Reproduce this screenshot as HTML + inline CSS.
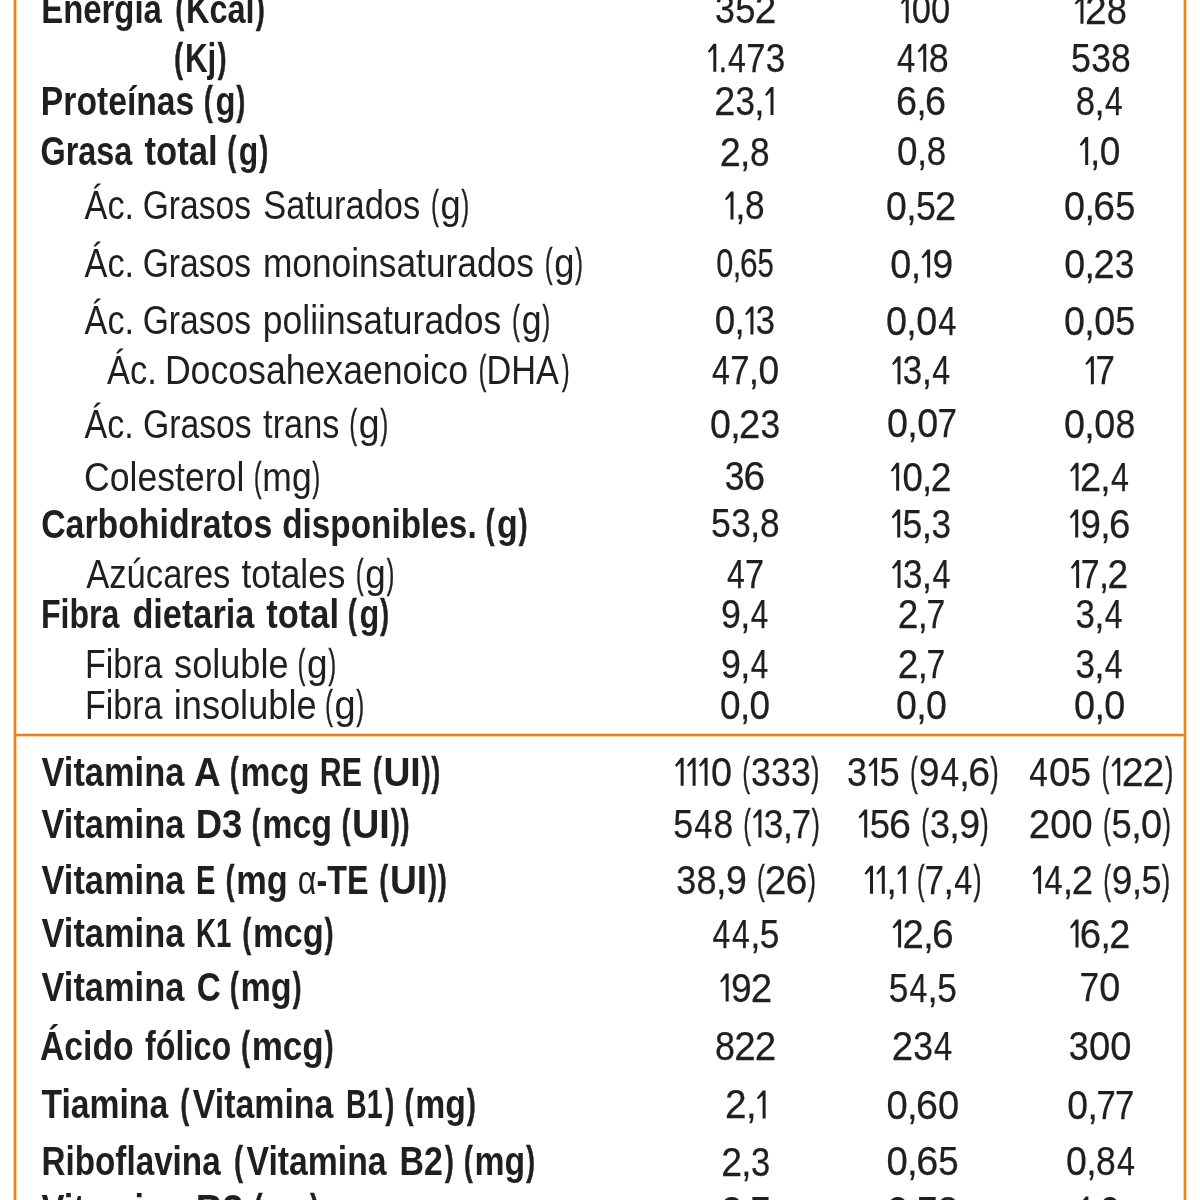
<!DOCTYPE html>
<html lang="es"><head><meta charset="utf-8"><title>Información nutricional</title>
<style>
html,body{margin:0;padding:0;background:#fff;width:1200px;height:1200px;overflow:hidden}
svg{display:block;will-change:transform}
text{font-family:"Liberation Sans",sans-serif;fill:#1f1f1f;white-space:pre}
.pr{stroke:#1f1f1f;stroke-width:0.6px}
.pb{stroke:#1f1f1f;stroke-width:0.7px}
.nd{stroke:#1f1f1f;stroke-width:0.25px}
</style></head><body>
<svg width="1200" height="1200" viewBox="0 0 1200 1200">
<rect x="0" y="0" width="1200" height="1200" fill="#fff"/>
<g fill="#f8d3a8">
<rect x="13.0" y="0" width="4.0" height="1200"/>
<rect x="1183.0" y="0" width="4.0" height="1200"/>
<rect x="16.0" y="733.0" width="1168.0" height="4.0"/>
</g>
<g fill="#e9831b">
<rect x="14.0" y="0" width="2.0" height="1200"/>
<rect x="1184.0" y="0" width="2.0" height="1200"/>
<rect x="15.0" y="734.0" width="1170.0" height="2.0"/>
</g>
<text x="41.26" y="23.30" font-size="40" font-weight="700" textLength="120.62" lengthAdjust="spacingAndGlyphs">Energía</text>
<text class="pb" x="175.40" y="23.30" font-size="40" font-weight="700" textLength="8.66" lengthAdjust="spacingAndGlyphs">(</text>
<text x="185.98" y="23.30" font-size="40" font-weight="700" textLength="68.59" lengthAdjust="spacingAndGlyphs">Kcal</text>
<text class="pb" x="255.95" y="23.30" font-size="40" font-weight="700" textLength="8.66" lengthAdjust="spacingAndGlyphs">)</text>
<text class="pb" x="174.30" y="71.90" font-size="40" font-weight="700" textLength="8.66" lengthAdjust="spacingAndGlyphs">(</text>
<text x="184.93" y="71.90" font-size="40" font-weight="700" textLength="31.43" lengthAdjust="spacingAndGlyphs">Kj</text>
<text class="pb" x="217.80" y="71.90" font-size="40" font-weight="700" textLength="8.66" lengthAdjust="spacingAndGlyphs">)</text>
<text x="40.82" y="115.00" font-size="40" font-weight="700" textLength="153.53" lengthAdjust="spacingAndGlyphs">Proteínas</text>
<text class="pb" x="204.10" y="115.00" font-size="40" font-weight="700" textLength="8.66" lengthAdjust="spacingAndGlyphs">(</text>
<text x="215.48" y="115.00" font-size="40" font-weight="700" textLength="20.01" lengthAdjust="spacingAndGlyphs">g</text>
<text class="pb" x="236.60" y="115.00" font-size="40" font-weight="700" textLength="8.66" lengthAdjust="spacingAndGlyphs">)</text>
<text x="40.44" y="165.30" font-size="40" font-weight="700" textLength="91.85" lengthAdjust="spacingAndGlyphs">Grasa</text>
<text x="144.40" y="165.30" font-size="40" font-weight="700" textLength="73.23" lengthAdjust="spacingAndGlyphs">total</text>
<text class="pb" x="227.45" y="165.30" font-size="40" font-weight="700" textLength="8.66" lengthAdjust="spacingAndGlyphs">(</text>
<text x="238.85" y="165.30" font-size="40" font-weight="700" textLength="19.49" lengthAdjust="spacingAndGlyphs">g</text>
<text class="pb" x="259.50" y="165.30" font-size="40" font-weight="700" textLength="8.66" lengthAdjust="spacingAndGlyphs">)</text>
<text x="84.60" y="219.20" font-size="41" font-weight="400" textLength="49.48" lengthAdjust="spacingAndGlyphs">Ác.</text>
<text x="142.76" y="219.20" font-size="41" font-weight="400" textLength="108.25" lengthAdjust="spacingAndGlyphs">Grasos</text>
<text x="263.16" y="219.20" font-size="41" font-weight="400" textLength="157.01" lengthAdjust="spacingAndGlyphs">Saturados</text>
<text class="pr" x="431.20" y="219.20" font-size="41" font-weight="400" textLength="7.51" lengthAdjust="spacingAndGlyphs">(</text>
<text x="440.52" y="219.20" font-size="41" font-weight="400" textLength="20.18" lengthAdjust="spacingAndGlyphs">g</text>
<text class="pr" x="461.60" y="219.20" font-size="41" font-weight="400" textLength="7.51" lengthAdjust="spacingAndGlyphs">)</text>
<text x="84.60" y="277.10" font-size="41" font-weight="400" textLength="49.48" lengthAdjust="spacingAndGlyphs">Ác.</text>
<text x="142.76" y="277.10" font-size="41" font-weight="400" textLength="108.25" lengthAdjust="spacingAndGlyphs">Grasos</text>
<text x="262.88" y="277.10" font-size="41" font-weight="400" textLength="271.05" lengthAdjust="spacingAndGlyphs">monoinsaturados</text>
<text class="pr" x="544.90" y="277.10" font-size="41" font-weight="400" textLength="7.51" lengthAdjust="spacingAndGlyphs">(</text>
<text x="554.22" y="277.10" font-size="41" font-weight="400" textLength="20.18" lengthAdjust="spacingAndGlyphs">g</text>
<text class="pr" x="575.30" y="277.10" font-size="41" font-weight="400" textLength="7.51" lengthAdjust="spacingAndGlyphs">)</text>
<text x="84.60" y="334.40" font-size="41" font-weight="400" textLength="49.48" lengthAdjust="spacingAndGlyphs">Ác.</text>
<text x="142.76" y="334.40" font-size="41" font-weight="400" textLength="108.25" lengthAdjust="spacingAndGlyphs">Grasos</text>
<text x="262.87" y="334.40" font-size="41" font-weight="400" textLength="238.36" lengthAdjust="spacingAndGlyphs">poliinsaturados</text>
<text class="pr" x="512.30" y="334.40" font-size="41" font-weight="400" textLength="7.51" lengthAdjust="spacingAndGlyphs">(</text>
<text x="521.63" y="334.40" font-size="41" font-weight="400" textLength="19.84" lengthAdjust="spacingAndGlyphs">g</text>
<text class="pr" x="542.40" y="334.40" font-size="41" font-weight="400" textLength="7.51" lengthAdjust="spacingAndGlyphs">)</text>
<text x="107.10" y="383.80" font-size="41" font-weight="400" textLength="49.75" lengthAdjust="spacingAndGlyphs">Ác.</text>
<text x="164.89" y="383.80" font-size="41" font-weight="400" textLength="303.10" lengthAdjust="spacingAndGlyphs">Docosahexaenoico</text>
<text class="pr" x="478.70" y="383.80" font-size="41" font-weight="400" textLength="7.51" lengthAdjust="spacingAndGlyphs">(</text>
<text x="486.39" y="383.80" font-size="41" font-weight="400" textLength="72.46" lengthAdjust="spacingAndGlyphs">DHA</text>
<text class="pr" x="561.90" y="383.80" font-size="41" font-weight="400" textLength="7.51" lengthAdjust="spacingAndGlyphs">)</text>
<text x="84.60" y="437.60" font-size="41" font-weight="400" textLength="49.22" lengthAdjust="spacingAndGlyphs">Ác.</text>
<text x="142.95" y="437.60" font-size="41" font-weight="400" textLength="108.71" lengthAdjust="spacingAndGlyphs">Grasos</text>
<text x="263.10" y="437.60" font-size="41" font-weight="400" textLength="76.32" lengthAdjust="spacingAndGlyphs">trans</text>
<text class="pr" x="349.50" y="437.60" font-size="41" font-weight="400" textLength="7.51" lengthAdjust="spacingAndGlyphs">(</text>
<text x="358.79" y="437.60" font-size="41" font-weight="400" textLength="20.86" lengthAdjust="spacingAndGlyphs">g</text>
<text class="pr" x="380.50" y="437.60" font-size="41" font-weight="400" textLength="7.51" lengthAdjust="spacingAndGlyphs">)</text>
<text x="84.06" y="491.00" font-size="41" font-weight="400" textLength="160.27" lengthAdjust="spacingAndGlyphs">Colesterol</text>
<text class="pr" x="253.90" y="491.00" font-size="41" font-weight="400" textLength="7.51" lengthAdjust="spacingAndGlyphs">(</text>
<text x="262.37" y="491.00" font-size="41" font-weight="400" textLength="49.29" lengthAdjust="spacingAndGlyphs">mg</text>
<text class="pr" x="312.60" y="491.00" font-size="41" font-weight="400" textLength="7.51" lengthAdjust="spacingAndGlyphs">)</text>
<text x="41.15" y="537.60" font-size="40" font-weight="700" textLength="231.15" lengthAdjust="spacingAndGlyphs">Carbohidratos</text>
<text x="282.17" y="537.60" font-size="40" font-weight="700" textLength="194.49" lengthAdjust="spacingAndGlyphs">disponibles.</text>
<text class="pb" x="485.70" y="537.60" font-size="40" font-weight="700" textLength="8.66" lengthAdjust="spacingAndGlyphs">(</text>
<text x="497.05" y="537.60" font-size="40" font-weight="700" textLength="20.71" lengthAdjust="spacingAndGlyphs">g</text>
<text class="pb" x="518.80" y="537.60" font-size="40" font-weight="700" textLength="8.66" lengthAdjust="spacingAndGlyphs">)</text>
<text x="86.25" y="587.70" font-size="41" font-weight="400" textLength="144.17" lengthAdjust="spacingAndGlyphs">Azúcares</text>
<text x="241.50" y="587.70" font-size="41" font-weight="400" textLength="103.93" lengthAdjust="spacingAndGlyphs">totales</text>
<text class="pr" x="356.00" y="587.70" font-size="41" font-weight="400" textLength="7.51" lengthAdjust="spacingAndGlyphs">(</text>
<text x="365.30" y="587.70" font-size="41" font-weight="400" textLength="20.52" lengthAdjust="spacingAndGlyphs">g</text>
<text class="pr" x="386.70" y="587.70" font-size="41" font-weight="400" textLength="7.51" lengthAdjust="spacingAndGlyphs">)</text>
<text x="40.89" y="627.70" font-size="40" font-weight="700" textLength="78.50" lengthAdjust="spacingAndGlyphs">Fibra</text>
<text x="132.39" y="627.70" font-size="40" font-weight="700" textLength="121.96" lengthAdjust="spacingAndGlyphs">dietaria</text>
<text x="266.25" y="627.70" font-size="40" font-weight="700" textLength="72.77" lengthAdjust="spacingAndGlyphs">total</text>
<text class="pb" x="348.00" y="627.70" font-size="40" font-weight="700" textLength="8.66" lengthAdjust="spacingAndGlyphs">(</text>
<text x="359.39" y="627.70" font-size="40" font-weight="700" textLength="19.78" lengthAdjust="spacingAndGlyphs">g</text>
<text class="pb" x="380.30" y="627.70" font-size="40" font-weight="700" textLength="8.66" lengthAdjust="spacingAndGlyphs">)</text>
<text x="85.02" y="677.60" font-size="41" font-weight="400" textLength="77.32" lengthAdjust="spacingAndGlyphs">Fibra</text>
<text x="174.12" y="677.60" font-size="41" font-weight="400" textLength="114.47" lengthAdjust="spacingAndGlyphs">soluble</text>
<text class="pr" x="297.65" y="677.60" font-size="41" font-weight="400" textLength="7.51" lengthAdjust="spacingAndGlyphs">(</text>
<text x="306.95" y="677.60" font-size="41" font-weight="400" textLength="20.58" lengthAdjust="spacingAndGlyphs">g</text>
<text class="pr" x="328.40" y="677.60" font-size="41" font-weight="400" textLength="7.51" lengthAdjust="spacingAndGlyphs">)</text>
<text x="85.02" y="719.00" font-size="41" font-weight="400" textLength="77.32" lengthAdjust="spacingAndGlyphs">Fibra</text>
<text x="173.73" y="719.00" font-size="41" font-weight="400" textLength="142.86" lengthAdjust="spacingAndGlyphs">insoluble</text>
<text class="pr" x="325.15" y="719.00" font-size="41" font-weight="400" textLength="7.51" lengthAdjust="spacingAndGlyphs">(</text>
<text x="334.42" y="719.00" font-size="41" font-weight="400" textLength="21.15" lengthAdjust="spacingAndGlyphs">g</text>
<text class="pr" x="356.40" y="719.00" font-size="41" font-weight="400" textLength="7.51" lengthAdjust="spacingAndGlyphs">)</text>
<text x="41.50" y="785.70" font-size="40" font-weight="700" textLength="142.85" lengthAdjust="spacingAndGlyphs">Vitamina</text>
<text x="194.07" y="785.70" font-size="40" font-weight="700" textLength="26.75" lengthAdjust="spacingAndGlyphs">A</text>
<text class="pb" x="229.95" y="785.70" font-size="40" font-weight="700" textLength="8.66" lengthAdjust="spacingAndGlyphs">(</text>
<text x="240.47" y="785.70" font-size="40" font-weight="700" textLength="69.07" lengthAdjust="spacingAndGlyphs">mcg</text>
<text x="319.78" y="785.70" font-size="40" font-weight="700" textLength="42.13" lengthAdjust="spacingAndGlyphs">RE</text>
<text class="pb" x="373.10" y="785.70" font-size="40" font-weight="700" textLength="8.66" lengthAdjust="spacingAndGlyphs">(</text>
<text x="383.44" y="785.70" font-size="40" font-weight="700" textLength="37.23" lengthAdjust="spacingAndGlyphs">UI</text>
<text class="pb" x="431.60" y="785.70" font-size="40" font-weight="700" textLength="8.66" lengthAdjust="spacingAndGlyphs">)</text>
<text class="pb" x="421.80" y="785.70" font-size="40" font-weight="700" textLength="8.66" lengthAdjust="spacingAndGlyphs">)</text>
<text x="41.50" y="837.60" font-size="40" font-weight="700" textLength="142.85" lengthAdjust="spacingAndGlyphs">Vitamina</text>
<text x="195.67" y="837.60" font-size="40" font-weight="700" textLength="46.72" lengthAdjust="spacingAndGlyphs">D3</text>
<text class="pb" x="251.70" y="837.60" font-size="40" font-weight="700" textLength="8.66" lengthAdjust="spacingAndGlyphs">(</text>
<text x="262.20" y="837.60" font-size="40" font-weight="700" textLength="69.87" lengthAdjust="spacingAndGlyphs">mcg</text>
<text class="pb" x="341.70" y="837.60" font-size="40" font-weight="700" textLength="8.66" lengthAdjust="spacingAndGlyphs">(</text>
<text x="352.01" y="837.60" font-size="40" font-weight="700" textLength="37.79" lengthAdjust="spacingAndGlyphs">UI</text>
<text class="pb" x="400.70" y="837.60" font-size="40" font-weight="700" textLength="8.66" lengthAdjust="spacingAndGlyphs">)</text>
<text class="pb" x="390.90" y="837.60" font-size="40" font-weight="700" textLength="8.66" lengthAdjust="spacingAndGlyphs">)</text>
<text x="41.50" y="894.00" font-size="40" font-weight="700" textLength="142.85" lengthAdjust="spacingAndGlyphs">Vitamina</text>
<text x="196.04" y="894.00" font-size="40" font-weight="700" textLength="19.45" lengthAdjust="spacingAndGlyphs">E</text>
<text class="pb" x="225.70" y="894.00" font-size="40" font-weight="700" textLength="8.66" lengthAdjust="spacingAndGlyphs">(</text>
<text x="236.18" y="894.00" font-size="40" font-weight="700" textLength="51.51" lengthAdjust="spacingAndGlyphs">mg</text>
<text x="297.79" y="894.00" font-size="40" font-weight="400" textLength="70.66" lengthAdjust="spacingAndGlyphs">α<tspan font-weight="700">-TE</tspan></text>
<text class="pb" x="379.60" y="894.00" font-size="40" font-weight="700" textLength="8.66" lengthAdjust="spacingAndGlyphs">(</text>
<text x="389.94" y="894.00" font-size="40" font-weight="700" textLength="37.23" lengthAdjust="spacingAndGlyphs">UI</text>
<text class="pb" x="438.10" y="894.00" font-size="40" font-weight="700" textLength="8.66" lengthAdjust="spacingAndGlyphs">)</text>
<text class="pb" x="428.30" y="894.00" font-size="40" font-weight="700" textLength="8.66" lengthAdjust="spacingAndGlyphs">)</text>
<text x="41.50" y="947.20" font-size="40" font-weight="700" textLength="142.85" lengthAdjust="spacingAndGlyphs">Vitamina</text>
<text x="196.12" y="947.20" font-size="40" font-weight="700" textLength="35.30" lengthAdjust="spacingAndGlyphs">K1</text>
<text class="pb" x="242.45" y="947.20" font-size="40" font-weight="700" textLength="8.66" lengthAdjust="spacingAndGlyphs">(</text>
<text x="252.93" y="947.20" font-size="40" font-weight="700" textLength="70.76" lengthAdjust="spacingAndGlyphs">mcg</text>
<text class="pb" x="324.70" y="947.20" font-size="40" font-weight="700" textLength="8.66" lengthAdjust="spacingAndGlyphs">)</text>
<text x="41.50" y="1001.20" font-size="40" font-weight="700" textLength="142.85" lengthAdjust="spacingAndGlyphs">Vitamina</text>
<text x="196.67" y="1001.20" font-size="40" font-weight="700" textLength="24.07" lengthAdjust="spacingAndGlyphs">C</text>
<text class="pb" x="229.95" y="1001.20" font-size="40" font-weight="700" textLength="8.66" lengthAdjust="spacingAndGlyphs">(</text>
<text x="240.44" y="1001.20" font-size="40" font-weight="700" textLength="51.24" lengthAdjust="spacingAndGlyphs">mg</text>
<text class="pb" x="292.70" y="1001.20" font-size="40" font-weight="700" textLength="8.66" lengthAdjust="spacingAndGlyphs">)</text>
<text x="39.96" y="1059.80" font-size="40" font-weight="700" textLength="93.75" lengthAdjust="spacingAndGlyphs">Ácido</text>
<text x="145.00" y="1059.80" font-size="40" font-weight="700" textLength="86.16" lengthAdjust="spacingAndGlyphs">fólico</text>
<text class="pb" x="241.20" y="1059.80" font-size="40" font-weight="700" textLength="8.66" lengthAdjust="spacingAndGlyphs">(</text>
<text x="251.65" y="1059.80" font-size="40" font-weight="700" textLength="72.09" lengthAdjust="spacingAndGlyphs">mcg</text>
<text class="pb" x="324.70" y="1059.80" font-size="40" font-weight="700" textLength="8.66" lengthAdjust="spacingAndGlyphs">)</text>
<text x="41.50" y="1118.30" font-size="40" font-weight="700" textLength="126.62" lengthAdjust="spacingAndGlyphs">Tiamina</text>
<text class="pb" x="180.60" y="1118.30" font-size="40" font-weight="700" textLength="8.66" lengthAdjust="spacingAndGlyphs">(</text>
<text x="192.80" y="1118.30" font-size="40" font-weight="700" textLength="140.56" lengthAdjust="spacingAndGlyphs">Vitamina</text>
<text x="346.07" y="1118.30" font-size="40" font-weight="700" textLength="36.61" lengthAdjust="spacingAndGlyphs">B1</text>
<text class="pb" x="385.60" y="1118.30" font-size="40" font-weight="700" textLength="8.66" lengthAdjust="spacingAndGlyphs">)</text>
<text class="pb" x="404.70" y="1118.30" font-size="40" font-weight="700" textLength="8.66" lengthAdjust="spacingAndGlyphs">(</text>
<text x="415.21" y="1118.30" font-size="40" font-weight="700" textLength="50.64" lengthAdjust="spacingAndGlyphs">mg</text>
<text class="pb" x="466.90" y="1118.30" font-size="40" font-weight="700" textLength="8.66" lengthAdjust="spacingAndGlyphs">)</text>
<text x="41.54" y="1175.30" font-size="40" font-weight="700" textLength="179.09" lengthAdjust="spacingAndGlyphs">Riboflavina</text>
<text class="pb" x="234.30" y="1175.30" font-size="40" font-weight="700" textLength="8.66" lengthAdjust="spacingAndGlyphs">(</text>
<text x="246.50" y="1175.30" font-size="40" font-weight="700" textLength="140.06" lengthAdjust="spacingAndGlyphs">Vitamina</text>
<text x="399.55" y="1175.30" font-size="40" font-weight="700" textLength="43.41" lengthAdjust="spacingAndGlyphs">B2</text>
<text class="pb" x="445.00" y="1175.30" font-size="40" font-weight="700" textLength="8.66" lengthAdjust="spacingAndGlyphs">)</text>
<text class="pb" x="464.00" y="1175.30" font-size="40" font-weight="700" textLength="8.66" lengthAdjust="spacingAndGlyphs">(</text>
<text x="474.51" y="1175.30" font-size="40" font-weight="700" textLength="50.64" lengthAdjust="spacingAndGlyphs">mg</text>
<text class="pb" x="526.20" y="1175.30" font-size="40" font-weight="700" textLength="8.66" lengthAdjust="spacingAndGlyphs">)</text>
<text x="41.50" y="1222.50" font-size="40" font-weight="700" textLength="142.85" lengthAdjust="spacingAndGlyphs">Vitamina</text>
<text x="195.64" y="1222.50" font-size="40" font-weight="700" textLength="47.52" lengthAdjust="spacingAndGlyphs">B3</text>
<text class="pb" x="253.70" y="1222.50" font-size="40" font-weight="700" textLength="8.66" lengthAdjust="spacingAndGlyphs">(</text>
<text x="264.42" y="1222.50" font-size="40" font-weight="700" textLength="44.49" lengthAdjust="spacingAndGlyphs">mg</text>
<text class="pb" x="310.20" y="1222.50" font-size="40" font-weight="700" textLength="8.66" lengthAdjust="spacingAndGlyphs">)</text>
<text class="nd" x="715.10" y="23.40" font-size="40" textLength="19.92" lengthAdjust="spacingAndGlyphs">3</text>
<text class="nd" x="735.23" y="23.40" font-size="40" textLength="20.26" lengthAdjust="spacingAndGlyphs">5</text>
<text class="nd" x="754.64" y="23.40" font-size="40" textLength="21.57" lengthAdjust="spacingAndGlyphs">2</text>
<text class="nd" x="911.78" y="23.30" font-size="40" textLength="19.21" lengthAdjust="spacingAndGlyphs">0</text>
<text class="nd" x="931.07" y="23.30" font-size="40" textLength="19.21" lengthAdjust="spacingAndGlyphs">0</text>
<text class="nd" x="1084.88" y="23.70" font-size="40" textLength="21.73" lengthAdjust="spacingAndGlyphs">2</text>
<text class="nd" x="1106.74" y="23.70" font-size="40" textLength="20.19" lengthAdjust="spacingAndGlyphs">8</text>
<text class="nd" x="718.47" y="71.80" font-size="40" textLength="8.79" lengthAdjust="spacingAndGlyphs">.</text>
<text class="nd" x="728.06" y="71.80" font-size="40" textLength="17.89" lengthAdjust="spacingAndGlyphs">4</text>
<text class="nd" x="746.20" y="71.80" font-size="40" textLength="19.21" lengthAdjust="spacingAndGlyphs">7</text>
<text class="nd" x="765.63" y="71.80" font-size="40" textLength="19.46" lengthAdjust="spacingAndGlyphs">3</text>
<text class="nd" x="897.00" y="71.70" font-size="40" textLength="18.24" lengthAdjust="spacingAndGlyphs">4</text>
<text class="nd" x="928.66" y="71.70" font-size="40" textLength="19.96" lengthAdjust="spacingAndGlyphs">8</text>
<text class="nd" x="1071.10" y="71.70" font-size="40" textLength="19.95" lengthAdjust="spacingAndGlyphs">5</text>
<text class="nd" x="1091.25" y="71.70" font-size="40" textLength="19.62" lengthAdjust="spacingAndGlyphs">3</text>
<text class="nd" x="1111.07" y="71.70" font-size="40" textLength="19.73" lengthAdjust="spacingAndGlyphs">8</text>
<text class="nd" x="714.31" y="115.00" font-size="40" textLength="21.05" lengthAdjust="spacingAndGlyphs">2</text>
<text class="nd" x="735.48" y="115.00" font-size="40" textLength="19.45" lengthAdjust="spacingAndGlyphs">3</text>
<text class="nd" x="754.31" y="115.00" font-size="40" textLength="10.32" lengthAdjust="spacingAndGlyphs">,</text>
<text class="nd" x="896.11" y="115.00" font-size="40" textLength="21.08" lengthAdjust="spacingAndGlyphs">6</text>
<text class="nd" x="916.47" y="115.00" font-size="40" textLength="10.17" lengthAdjust="spacingAndGlyphs">,</text>
<text class="nd" x="925.10" y="115.00" font-size="40" textLength="21.08" lengthAdjust="spacingAndGlyphs">6</text>
<text class="nd" x="1075.83" y="115.00" font-size="40" textLength="19.29" lengthAdjust="spacingAndGlyphs">8</text>
<text class="nd" x="1094.51" y="115.00" font-size="40" textLength="10.18" lengthAdjust="spacingAndGlyphs">,</text>
<text class="nd" x="1105.06" y="115.00" font-size="40" textLength="17.64" lengthAdjust="spacingAndGlyphs">4</text>
<text class="nd" x="719.70" y="165.60" font-size="40" textLength="21.08" lengthAdjust="spacingAndGlyphs">2</text>
<text class="nd" x="740.08" y="165.60" font-size="40" textLength="10.34" lengthAdjust="spacingAndGlyphs">,</text>
<text class="nd" x="749.91" y="165.60" font-size="40" textLength="19.59" lengthAdjust="spacingAndGlyphs">8</text>
<text class="nd" x="897.08" y="165.00" font-size="40" textLength="20.52" lengthAdjust="spacingAndGlyphs">0</text>
<text class="nd" x="916.92" y="165.00" font-size="40" textLength="10.25" lengthAdjust="spacingAndGlyphs">,</text>
<text class="nd" x="926.66" y="165.00" font-size="40" textLength="19.43" lengthAdjust="spacingAndGlyphs">8</text>
<text class="nd" x="1089.95" y="165.00" font-size="40" textLength="10.32" lengthAdjust="spacingAndGlyphs">,</text>
<text class="nd" x="1099.71" y="165.00" font-size="40" textLength="20.65" lengthAdjust="spacingAndGlyphs">0</text>
<text class="nd" x="735.27" y="219.40" font-size="40" textLength="10.34" lengthAdjust="spacingAndGlyphs">,</text>
<text class="nd" x="745.10" y="219.40" font-size="40" textLength="19.60" lengthAdjust="spacingAndGlyphs">8</text>
<text class="nd" x="886.07" y="219.70" font-size="40" textLength="20.76" lengthAdjust="spacingAndGlyphs">0</text>
<text class="nd" x="906.14" y="219.70" font-size="40" textLength="10.37" lengthAdjust="spacingAndGlyphs">,</text>
<text class="nd" x="915.99" y="219.70" font-size="40" textLength="19.88" lengthAdjust="spacingAndGlyphs">5</text>
<text class="nd" x="935.03" y="219.70" font-size="40" textLength="21.15" lengthAdjust="spacingAndGlyphs">2</text>
<text class="nd" x="1064.05" y="219.70" font-size="40" textLength="21.03" lengthAdjust="spacingAndGlyphs">0</text>
<text class="nd" x="1084.39" y="219.70" font-size="40" textLength="10.51" lengthAdjust="spacingAndGlyphs">,</text>
<text class="nd" x="1093.32" y="219.70" font-size="40" textLength="21.79" lengthAdjust="spacingAndGlyphs">6</text>
<text class="nd" x="1115.19" y="219.70" font-size="40" textLength="20.14" lengthAdjust="spacingAndGlyphs">5</text>
<text class="nd" x="716.23" y="277.00" font-size="40" textLength="17.02" lengthAdjust="spacingAndGlyphs">0</text>
<text class="nd" x="732.69" y="277.00" font-size="40" textLength="8.50" lengthAdjust="spacingAndGlyphs">,</text>
<text class="nd" x="739.91" y="277.00" font-size="40" textLength="17.63" lengthAdjust="spacingAndGlyphs">6</text>
<text class="nd" x="757.62" y="277.00" font-size="40" textLength="16.30" lengthAdjust="spacingAndGlyphs">5</text>
<text class="nd" x="890.36" y="277.50" font-size="40" textLength="20.98" lengthAdjust="spacingAndGlyphs">0</text>
<text class="nd" x="910.64" y="277.50" font-size="40" textLength="10.48" lengthAdjust="spacingAndGlyphs">,</text>
<text class="nd" x="932.51" y="277.50" font-size="40" textLength="20.65" lengthAdjust="spacingAndGlyphs">9</text>
<text class="nd" x="1064.36" y="277.50" font-size="40" textLength="20.85" lengthAdjust="spacingAndGlyphs">0</text>
<text class="nd" x="1084.52" y="277.50" font-size="40" textLength="10.42" lengthAdjust="spacingAndGlyphs">,</text>
<text class="nd" x="1093.40" y="277.50" font-size="40" textLength="21.25" lengthAdjust="spacingAndGlyphs">2</text>
<text class="nd" x="1114.77" y="277.50" font-size="40" textLength="19.63" lengthAdjust="spacingAndGlyphs">3</text>
<text class="nd" x="714.68" y="334.40" font-size="40" textLength="20.46" lengthAdjust="spacingAndGlyphs">0</text>
<text class="nd" x="734.46" y="334.40" font-size="40" textLength="10.22" lengthAdjust="spacingAndGlyphs">,</text>
<text class="nd" x="755.82" y="334.40" font-size="40" textLength="19.26" lengthAdjust="spacingAndGlyphs">3</text>
<text class="nd" x="886.06" y="334.70" font-size="40" textLength="21.00" lengthAdjust="spacingAndGlyphs">0</text>
<text class="nd" x="906.36" y="334.70" font-size="40" textLength="10.49" lengthAdjust="spacingAndGlyphs">,</text>
<text class="nd" x="916.29" y="334.70" font-size="40" textLength="21.00" lengthAdjust="spacingAndGlyphs">0</text>
<text class="nd" x="938.32" y="334.70" font-size="40" textLength="18.18" lengthAdjust="spacingAndGlyphs">4</text>
<text class="nd" x="1064.06" y="334.70" font-size="40" textLength="20.94" lengthAdjust="spacingAndGlyphs">0</text>
<text class="nd" x="1084.31" y="334.70" font-size="40" textLength="10.46" lengthAdjust="spacingAndGlyphs">,</text>
<text class="nd" x="1094.20" y="334.70" font-size="40" textLength="20.94" lengthAdjust="spacingAndGlyphs">0</text>
<text class="nd" x="1115.27" y="334.70" font-size="40" textLength="20.05" lengthAdjust="spacingAndGlyphs">5</text>
<text class="nd" x="712.00" y="384.00" font-size="40" textLength="17.88" lengthAdjust="spacingAndGlyphs">4</text>
<text class="nd" x="730.13" y="384.00" font-size="40" textLength="19.20" lengthAdjust="spacingAndGlyphs">7</text>
<text class="nd" x="748.73" y="384.00" font-size="40" textLength="10.32" lengthAdjust="spacingAndGlyphs">,</text>
<text class="nd" x="758.50" y="384.00" font-size="40" textLength="20.66" lengthAdjust="spacingAndGlyphs">0</text>
<text class="nd" x="902.87" y="384.20" font-size="40" textLength="19.42" lengthAdjust="spacingAndGlyphs">3</text>
<text class="nd" x="921.67" y="384.20" font-size="40" textLength="10.30" lengthAdjust="spacingAndGlyphs">,</text>
<text class="nd" x="932.34" y="384.20" font-size="40" textLength="17.85" lengthAdjust="spacingAndGlyphs">4</text>
<text class="nd" x="1095.42" y="384.20" font-size="40" textLength="19.37" lengthAdjust="spacingAndGlyphs">7</text>
<text class="nd" x="710.06" y="438.00" font-size="40" textLength="20.85" lengthAdjust="spacingAndGlyphs">0</text>
<text class="nd" x="730.22" y="438.00" font-size="40" textLength="10.42" lengthAdjust="spacingAndGlyphs">,</text>
<text class="nd" x="739.10" y="438.00" font-size="40" textLength="21.25" lengthAdjust="spacingAndGlyphs">2</text>
<text class="nd" x="760.47" y="438.00" font-size="40" textLength="19.63" lengthAdjust="spacingAndGlyphs">3</text>
<text class="nd" x="887.06" y="437.00" font-size="40" textLength="20.94" lengthAdjust="spacingAndGlyphs">0</text>
<text class="nd" x="907.31" y="437.00" font-size="40" textLength="10.46" lengthAdjust="spacingAndGlyphs">,</text>
<text class="nd" x="917.20" y="437.00" font-size="40" textLength="20.94" lengthAdjust="spacingAndGlyphs">0</text>
<text class="nd" x="937.43" y="437.00" font-size="40" textLength="19.46" lengthAdjust="spacingAndGlyphs">7</text>
<text class="nd" x="1064.06" y="437.50" font-size="40" textLength="21.00" lengthAdjust="spacingAndGlyphs">0</text>
<text class="nd" x="1084.36" y="437.50" font-size="40" textLength="10.49" lengthAdjust="spacingAndGlyphs">,</text>
<text class="nd" x="1094.29" y="437.50" font-size="40" textLength="21.00" lengthAdjust="spacingAndGlyphs">0</text>
<text class="nd" x="1115.43" y="437.50" font-size="40" textLength="19.89" lengthAdjust="spacingAndGlyphs">8</text>
<text class="nd" x="724.72" y="490.40" font-size="40" textLength="19.69" lengthAdjust="spacingAndGlyphs">3</text>
<text class="nd" x="743.55" y="490.40" font-size="40" textLength="21.66" lengthAdjust="spacingAndGlyphs">6</text>
<text class="nd" x="902.43" y="490.80" font-size="40" textLength="20.33" lengthAdjust="spacingAndGlyphs">0</text>
<text class="nd" x="922.09" y="490.80" font-size="40" textLength="10.16" lengthAdjust="spacingAndGlyphs">,</text>
<text class="nd" x="930.74" y="490.80" font-size="40" textLength="20.72" lengthAdjust="spacingAndGlyphs">2</text>
<text class="nd" x="1079.88" y="490.80" font-size="40" textLength="21.09" lengthAdjust="spacingAndGlyphs">2</text>
<text class="nd" x="1100.27" y="490.80" font-size="40" textLength="10.34" lengthAdjust="spacingAndGlyphs">,</text>
<text class="nd" x="1110.98" y="490.80" font-size="40" textLength="17.92" lengthAdjust="spacingAndGlyphs">4</text>
<text class="nd" x="711.11" y="537.00" font-size="40" textLength="19.84" lengthAdjust="spacingAndGlyphs">5</text>
<text class="nd" x="731.14" y="537.00" font-size="40" textLength="19.51" lengthAdjust="spacingAndGlyphs">3</text>
<text class="nd" x="750.04" y="537.00" font-size="40" textLength="10.35" lengthAdjust="spacingAndGlyphs">,</text>
<text class="nd" x="759.88" y="537.00" font-size="40" textLength="19.62" lengthAdjust="spacingAndGlyphs">8</text>
<text class="nd" x="902.59" y="537.50" font-size="40" textLength="19.82" lengthAdjust="spacingAndGlyphs">5</text>
<text class="nd" x="921.77" y="537.50" font-size="40" textLength="10.34" lengthAdjust="spacingAndGlyphs">,</text>
<text class="nd" x="931.60" y="537.50" font-size="40" textLength="19.49" lengthAdjust="spacingAndGlyphs">3</text>
<text class="nd" x="1080.55" y="537.50" font-size="40" textLength="20.34" lengthAdjust="spacingAndGlyphs">9</text>
<text class="nd" x="1100.22" y="537.50" font-size="40" textLength="10.33" lengthAdjust="spacingAndGlyphs">,</text>
<text class="nd" x="1108.99" y="537.50" font-size="40" textLength="21.41" lengthAdjust="spacingAndGlyphs">6</text>
<text class="nd" x="727.00" y="588.00" font-size="40" textLength="17.75" lengthAdjust="spacingAndGlyphs">4</text>
<text class="nd" x="745.00" y="588.00" font-size="40" textLength="19.07" lengthAdjust="spacingAndGlyphs">7</text>
<text class="nd" x="902.92" y="588.00" font-size="40" textLength="19.52" lengthAdjust="spacingAndGlyphs">3</text>
<text class="nd" x="921.82" y="588.00" font-size="40" textLength="10.36" lengthAdjust="spacingAndGlyphs">,</text>
<text class="nd" x="932.55" y="588.00" font-size="40" textLength="17.95" lengthAdjust="spacingAndGlyphs">4</text>
<text class="nd" x="1080.64" y="588.00" font-size="40" textLength="18.83" lengthAdjust="spacingAndGlyphs">7</text>
<text class="nd" x="1098.88" y="588.00" font-size="40" textLength="10.12" lengthAdjust="spacingAndGlyphs">,</text>
<text class="nd" x="1107.51" y="588.00" font-size="40" textLength="20.65" lengthAdjust="spacingAndGlyphs">2</text>
<text class="nd" x="721.11" y="628.00" font-size="40" textLength="19.84" lengthAdjust="spacingAndGlyphs">9</text>
<text class="nd" x="740.30" y="628.00" font-size="40" textLength="10.07" lengthAdjust="spacingAndGlyphs">,</text>
<text class="nd" x="750.74" y="628.00" font-size="40" textLength="17.46" lengthAdjust="spacingAndGlyphs">4</text>
<text class="nd" x="897.85" y="628.00" font-size="40" textLength="20.57" lengthAdjust="spacingAndGlyphs">2</text>
<text class="nd" x="917.73" y="628.00" font-size="40" textLength="10.08" lengthAdjust="spacingAndGlyphs">,</text>
<text class="nd" x="926.49" y="628.00" font-size="40" textLength="18.76" lengthAdjust="spacingAndGlyphs">7</text>
<text class="nd" x="1075.43" y="628.00" font-size="40" textLength="19.39" lengthAdjust="spacingAndGlyphs">3</text>
<text class="nd" x="1094.21" y="628.00" font-size="40" textLength="10.29" lengthAdjust="spacingAndGlyphs">,</text>
<text class="nd" x="1104.87" y="628.00" font-size="40" textLength="17.83" lengthAdjust="spacingAndGlyphs">4</text>
<text class="nd" x="721.11" y="677.60" font-size="40" textLength="19.84" lengthAdjust="spacingAndGlyphs">9</text>
<text class="nd" x="740.30" y="677.60" font-size="40" textLength="10.07" lengthAdjust="spacingAndGlyphs">,</text>
<text class="nd" x="750.74" y="677.60" font-size="40" textLength="17.46" lengthAdjust="spacingAndGlyphs">4</text>
<text class="nd" x="897.85" y="677.50" font-size="40" textLength="20.57" lengthAdjust="spacingAndGlyphs">2</text>
<text class="nd" x="917.73" y="677.50" font-size="40" textLength="10.08" lengthAdjust="spacingAndGlyphs">,</text>
<text class="nd" x="926.49" y="677.50" font-size="40" textLength="18.76" lengthAdjust="spacingAndGlyphs">7</text>
<text class="nd" x="1075.43" y="677.50" font-size="40" textLength="19.39" lengthAdjust="spacingAndGlyphs">3</text>
<text class="nd" x="1094.21" y="677.50" font-size="40" textLength="10.29" lengthAdjust="spacingAndGlyphs">,</text>
<text class="nd" x="1104.87" y="677.50" font-size="40" textLength="17.83" lengthAdjust="spacingAndGlyphs">4</text>
<text class="nd" x="720.08" y="719.00" font-size="40" textLength="20.53" lengthAdjust="spacingAndGlyphs">0</text>
<text class="nd" x="739.93" y="719.00" font-size="40" textLength="10.25" lengthAdjust="spacingAndGlyphs">,</text>
<text class="nd" x="749.62" y="719.00" font-size="40" textLength="20.53" lengthAdjust="spacingAndGlyphs">0</text>
<text class="nd" x="896.06" y="718.70" font-size="40" textLength="20.87" lengthAdjust="spacingAndGlyphs">0</text>
<text class="nd" x="916.24" y="718.70" font-size="40" textLength="10.43" lengthAdjust="spacingAndGlyphs">,</text>
<text class="nd" x="926.10" y="718.70" font-size="40" textLength="20.87" lengthAdjust="spacingAndGlyphs">0</text>
<text class="nd" x="1074.05" y="718.70" font-size="40" textLength="21.04" lengthAdjust="spacingAndGlyphs">0</text>
<text class="nd" x="1094.40" y="718.70" font-size="40" textLength="10.51" lengthAdjust="spacingAndGlyphs">,</text>
<text class="nd" x="1104.34" y="718.70" font-size="40" textLength="21.04" lengthAdjust="spacingAndGlyphs">0</text>
<text class="nd" x="710.94" y="785.75" font-size="40" textLength="21.01" lengthAdjust="spacingAndGlyphs">0</text>
<text class="pr" x="742.43" y="785.75" font-size="40" textLength="7.36" lengthAdjust="spacingAndGlyphs">(</text>
<text class="nd" x="750.89" y="785.75" font-size="40" textLength="19.78" lengthAdjust="spacingAndGlyphs">3</text>
<text class="nd" x="770.89" y="785.75" font-size="40" textLength="19.78" lengthAdjust="spacingAndGlyphs">3</text>
<text class="nd" x="790.88" y="785.75" font-size="40" textLength="19.78" lengthAdjust="spacingAndGlyphs">3</text>
<text class="pr" x="811.17" y="785.75" font-size="40" textLength="8.03" lengthAdjust="spacingAndGlyphs">)</text>
<text class="nd" x="847.11" y="785.75" font-size="40" textLength="19.90" lengthAdjust="spacingAndGlyphs">3</text>
<text class="nd" x="879.54" y="785.75" font-size="40" textLength="20.24" lengthAdjust="spacingAndGlyphs">5</text>
<text class="pr" x="910.37" y="785.75" font-size="40" textLength="7.41" lengthAdjust="spacingAndGlyphs">(</text>
<text class="nd" x="918.83" y="785.75" font-size="40" textLength="20.80" lengthAdjust="spacingAndGlyphs">9</text>
<text class="nd" x="940.69" y="785.75" font-size="40" textLength="18.30" lengthAdjust="spacingAndGlyphs">4</text>
<text class="nd" x="959.27" y="785.75" font-size="40" textLength="10.56" lengthAdjust="spacingAndGlyphs">,</text>
<text class="nd" x="968.24" y="785.75" font-size="40" textLength="21.90" lengthAdjust="spacingAndGlyphs">6</text>
<text class="pr" x="990.53" y="785.75" font-size="40" textLength="8.08" lengthAdjust="spacingAndGlyphs">)</text>
<text class="nd" x="1029.20" y="785.75" font-size="40" textLength="18.60" lengthAdjust="spacingAndGlyphs">4</text>
<text class="nd" x="1048.88" y="785.75" font-size="40" textLength="21.48" lengthAdjust="spacingAndGlyphs">0</text>
<text class="nd" x="1070.50" y="785.75" font-size="40" textLength="20.57" lengthAdjust="spacingAndGlyphs">5</text>
<text class="pr" x="1101.84" y="785.75" font-size="40" textLength="7.53" lengthAdjust="spacingAndGlyphs">(</text>
<text class="nd" x="1121.65" y="785.75" font-size="40" textLength="21.89" lengthAdjust="spacingAndGlyphs">2</text>
<text class="nd" x="1142.61" y="785.75" font-size="40" textLength="21.89" lengthAdjust="spacingAndGlyphs">2</text>
<text class="pr" x="1164.92" y="785.75" font-size="40" textLength="8.21" lengthAdjust="spacingAndGlyphs">)</text>
<text class="nd" x="673.35" y="837.50" font-size="40" textLength="19.92" lengthAdjust="spacingAndGlyphs">5</text>
<text class="nd" x="694.35" y="837.50" font-size="40" textLength="18.01" lengthAdjust="spacingAndGlyphs">4</text>
<text class="nd" x="713.47" y="837.50" font-size="40" textLength="19.70" lengthAdjust="spacingAndGlyphs">8</text>
<text class="pr" x="743.61" y="837.50" font-size="40" textLength="7.29" lengthAdjust="spacingAndGlyphs">(</text>
<text class="nd" x="763.83" y="837.50" font-size="40" textLength="19.59" lengthAdjust="spacingAndGlyphs">3</text>
<text class="nd" x="782.80" y="837.50" font-size="40" textLength="10.40" lengthAdjust="spacingAndGlyphs">,</text>
<text class="nd" x="791.83" y="837.50" font-size="40" textLength="19.34" lengthAdjust="spacingAndGlyphs">7</text>
<text class="pr" x="811.68" y="837.50" font-size="40" textLength="7.95" lengthAdjust="spacingAndGlyphs">)</text>
<text class="nd" x="869.63" y="837.50" font-size="40" textLength="20.26" lengthAdjust="spacingAndGlyphs">5</text>
<text class="nd" x="889.01" y="837.50" font-size="40" textLength="21.92" lengthAdjust="spacingAndGlyphs">6</text>
<text class="pr" x="921.43" y="837.50" font-size="40" textLength="7.41" lengthAdjust="spacingAndGlyphs">(</text>
<text class="nd" x="929.95" y="837.50" font-size="40" textLength="19.92" lengthAdjust="spacingAndGlyphs">3</text>
<text class="nd" x="949.24" y="837.50" font-size="40" textLength="10.57" lengthAdjust="spacingAndGlyphs">,</text>
<text class="nd" x="959.25" y="837.50" font-size="40" textLength="20.82" lengthAdjust="spacingAndGlyphs">9</text>
<text class="pr" x="980.52" y="837.50" font-size="40" textLength="8.09" lengthAdjust="spacingAndGlyphs">)</text>
<text class="nd" x="1028.77" y="837.50" font-size="40" textLength="21.50" lengthAdjust="spacingAndGlyphs">2</text>
<text class="nd" x="1050.33" y="837.50" font-size="40" textLength="21.09" lengthAdjust="spacingAndGlyphs">0</text>
<text class="nd" x="1071.51" y="837.50" font-size="40" textLength="21.09" lengthAdjust="spacingAndGlyphs">0</text>
<text class="pr" x="1103.13" y="837.50" font-size="40" textLength="7.39" lengthAdjust="spacingAndGlyphs">(</text>
<text class="nd" x="1111.60" y="837.50" font-size="40" textLength="20.20" lengthAdjust="spacingAndGlyphs">5</text>
<text class="nd" x="1131.15" y="837.50" font-size="40" textLength="10.54" lengthAdjust="spacingAndGlyphs">,</text>
<text class="nd" x="1141.12" y="837.50" font-size="40" textLength="21.09" lengthAdjust="spacingAndGlyphs">0</text>
<text class="pr" x="1162.64" y="837.50" font-size="40" textLength="8.06" lengthAdjust="spacingAndGlyphs">)</text>
<text class="nd" x="676.35" y="893.75" font-size="40" textLength="19.94" lengthAdjust="spacingAndGlyphs">3</text>
<text class="nd" x="696.51" y="893.75" font-size="40" textLength="20.05" lengthAdjust="spacingAndGlyphs">8</text>
<text class="nd" x="715.92" y="893.75" font-size="40" textLength="10.58" lengthAdjust="spacingAndGlyphs">,</text>
<text class="nd" x="725.95" y="893.75" font-size="40" textLength="20.84" lengthAdjust="spacingAndGlyphs">9</text>
<text class="pr" x="757.37" y="893.75" font-size="40" textLength="7.42" lengthAdjust="spacingAndGlyphs">(</text>
<text class="nd" x="764.85" y="893.75" font-size="40" textLength="21.58" lengthAdjust="spacingAndGlyphs">2</text>
<text class="nd" x="785.48" y="893.75" font-size="40" textLength="21.94" lengthAdjust="spacingAndGlyphs">6</text>
<text class="pr" x="807.81" y="893.75" font-size="40" textLength="8.10" lengthAdjust="spacingAndGlyphs">)</text>
<text class="nd" x="886.57" y="893.75" font-size="40" textLength="10.35" lengthAdjust="spacingAndGlyphs">,</text>
<text class="pr" x="917.30" y="893.75" font-size="40" textLength="7.26" lengthAdjust="spacingAndGlyphs">(</text>
<text class="nd" x="924.78" y="893.75" font-size="40" textLength="19.25" lengthAdjust="spacingAndGlyphs">7</text>
<text class="nd" x="943.43" y="893.75" font-size="40" textLength="10.35" lengthAdjust="spacingAndGlyphs">,</text>
<text class="nd" x="954.15" y="893.75" font-size="40" textLength="17.93" lengthAdjust="spacingAndGlyphs">4</text>
<text class="pr" x="973.46" y="893.75" font-size="40" textLength="7.92" lengthAdjust="spacingAndGlyphs">)</text>
<text class="nd" x="1044.40" y="893.75" font-size="40" textLength="18.10" lengthAdjust="spacingAndGlyphs">4</text>
<text class="nd" x="1062.78" y="893.75" font-size="40" textLength="10.45" lengthAdjust="spacingAndGlyphs">,</text>
<text class="nd" x="1071.68" y="893.75" font-size="40" textLength="21.31" lengthAdjust="spacingAndGlyphs">2</text>
<text class="pr" x="1103.40" y="893.75" font-size="40" textLength="7.33" lengthAdjust="spacingAndGlyphs">(</text>
<text class="nd" x="1111.78" y="893.75" font-size="40" textLength="20.58" lengthAdjust="spacingAndGlyphs">9</text>
<text class="nd" x="1131.68" y="893.75" font-size="40" textLength="10.45" lengthAdjust="spacingAndGlyphs">,</text>
<text class="nd" x="1141.60" y="893.75" font-size="40" textLength="20.02" lengthAdjust="spacingAndGlyphs">5</text>
<text class="pr" x="1162.10" y="893.75" font-size="40" textLength="7.99" lengthAdjust="spacingAndGlyphs">)</text>
<text class="nd" x="712.40" y="947.60" font-size="40" textLength="17.75" lengthAdjust="spacingAndGlyphs">4</text>
<text class="nd" x="732.11" y="947.60" font-size="40" textLength="17.75" lengthAdjust="spacingAndGlyphs">4</text>
<text class="nd" x="750.14" y="947.60" font-size="40" textLength="10.24" lengthAdjust="spacingAndGlyphs">,</text>
<text class="nd" x="759.87" y="947.60" font-size="40" textLength="19.63" lengthAdjust="spacingAndGlyphs">5</text>
<text class="nd" x="902.50" y="947.50" font-size="40" textLength="21.34" lengthAdjust="spacingAndGlyphs">2</text>
<text class="nd" x="923.13" y="947.50" font-size="40" textLength="10.46" lengthAdjust="spacingAndGlyphs">,</text>
<text class="nd" x="932.02" y="947.50" font-size="40" textLength="21.70" lengthAdjust="spacingAndGlyphs">6</text>
<text class="nd" x="1079.84" y="947.50" font-size="40" textLength="21.41" lengthAdjust="spacingAndGlyphs">6</text>
<text class="nd" x="1100.52" y="947.50" font-size="40" textLength="10.32" lengthAdjust="spacingAndGlyphs">,</text>
<text class="nd" x="1109.32" y="947.50" font-size="40" textLength="21.06" lengthAdjust="spacingAndGlyphs">2</text>
<text class="nd" x="731.02" y="1001.60" font-size="40" textLength="20.66" lengthAdjust="spacingAndGlyphs">9</text>
<text class="nd" x="750.81" y="1001.60" font-size="40" textLength="21.39" lengthAdjust="spacingAndGlyphs">2</text>
<text class="nd" x="888.82" y="1001.70" font-size="40" textLength="19.64" lengthAdjust="spacingAndGlyphs">5</text>
<text class="nd" x="909.51" y="1001.70" font-size="40" textLength="17.75" lengthAdjust="spacingAndGlyphs">4</text>
<text class="nd" x="927.54" y="1001.70" font-size="40" textLength="10.24" lengthAdjust="spacingAndGlyphs">,</text>
<text class="nd" x="937.26" y="1001.70" font-size="40" textLength="19.64" lengthAdjust="spacingAndGlyphs">5</text>
<text class="nd" x="1079.54" y="1001.30" font-size="40" textLength="19.59" lengthAdjust="spacingAndGlyphs">7</text>
<text class="nd" x="1099.30" y="1001.30" font-size="40" textLength="21.08" lengthAdjust="spacingAndGlyphs">0</text>
<text class="nd" x="715.10" y="1060.00" font-size="40" textLength="19.93" lengthAdjust="spacingAndGlyphs">8</text>
<text class="nd" x="734.21" y="1060.00" font-size="40" textLength="21.45" lengthAdjust="spacingAndGlyphs">2</text>
<text class="nd" x="754.75" y="1060.00" font-size="40" textLength="21.45" lengthAdjust="spacingAndGlyphs">2</text>
<text class="nd" x="891.78" y="1060.00" font-size="40" textLength="21.35" lengthAdjust="spacingAndGlyphs">2</text>
<text class="nd" x="913.25" y="1060.00" font-size="40" textLength="19.72" lengthAdjust="spacingAndGlyphs">3</text>
<text class="nd" x="934.07" y="1060.00" font-size="40" textLength="18.13" lengthAdjust="spacingAndGlyphs">4</text>
<text class="nd" x="1068.80" y="1060.00" font-size="40" textLength="19.98" lengthAdjust="spacingAndGlyphs">3</text>
<text class="nd" x="1088.95" y="1060.00" font-size="40" textLength="21.23" lengthAdjust="spacingAndGlyphs">0</text>
<text class="nd" x="1110.26" y="1060.00" font-size="40" textLength="21.23" lengthAdjust="spacingAndGlyphs">0</text>
<text class="nd" x="725.06" y="1118.40" font-size="40" textLength="21.59" lengthAdjust="spacingAndGlyphs">2</text>
<text class="nd" x="745.93" y="1118.40" font-size="40" textLength="10.58" lengthAdjust="spacingAndGlyphs">,</text>
<text class="nd" x="886.55" y="1118.70" font-size="40" textLength="21.18" lengthAdjust="spacingAndGlyphs">0</text>
<text class="nd" x="907.03" y="1118.70" font-size="40" textLength="10.58" lengthAdjust="spacingAndGlyphs">,</text>
<text class="nd" x="916.02" y="1118.70" font-size="40" textLength="21.94" lengthAdjust="spacingAndGlyphs">6</text>
<text class="nd" x="938.00" y="1118.70" font-size="40" textLength="21.18" lengthAdjust="spacingAndGlyphs">0</text>
<text class="nd" x="1067.37" y="1118.70" font-size="40" textLength="20.75" lengthAdjust="spacingAndGlyphs">0</text>
<text class="nd" x="1087.43" y="1118.70" font-size="40" textLength="10.37" lengthAdjust="spacingAndGlyphs">,</text>
<text class="nd" x="1096.44" y="1118.70" font-size="40" textLength="19.29" lengthAdjust="spacingAndGlyphs">7</text>
<text class="nd" x="1115.09" y="1118.70" font-size="40" textLength="19.29" lengthAdjust="spacingAndGlyphs">7</text>
<text class="nd" x="721.13" y="1175.60" font-size="40" textLength="20.77" lengthAdjust="spacingAndGlyphs">2</text>
<text class="nd" x="741.21" y="1175.60" font-size="40" textLength="10.18" lengthAdjust="spacingAndGlyphs">,</text>
<text class="nd" x="750.89" y="1175.60" font-size="40" textLength="19.19" lengthAdjust="spacingAndGlyphs">3</text>
<text class="nd" x="886.54" y="1175.30" font-size="40" textLength="21.28" lengthAdjust="spacingAndGlyphs">0</text>
<text class="nd" x="907.12" y="1175.30" font-size="40" textLength="10.63" lengthAdjust="spacingAndGlyphs">,</text>
<text class="nd" x="916.14" y="1175.30" font-size="40" textLength="22.04" lengthAdjust="spacingAndGlyphs">6</text>
<text class="nd" x="938.27" y="1175.30" font-size="40" textLength="20.37" lengthAdjust="spacingAndGlyphs">5</text>
<text class="nd" x="1066.06" y="1175.30" font-size="40" textLength="20.82" lengthAdjust="spacingAndGlyphs">0</text>
<text class="nd" x="1086.19" y="1175.30" font-size="40" textLength="10.40" lengthAdjust="spacingAndGlyphs">,</text>
<text class="nd" x="1096.08" y="1175.30" font-size="40" textLength="19.71" lengthAdjust="spacingAndGlyphs">8</text>
<text class="nd" x="1116.88" y="1175.30" font-size="40" textLength="18.02" lengthAdjust="spacingAndGlyphs">4</text>
<text class="nd" x="721.09" y="1224.50" font-size="40" textLength="21.26" lengthAdjust="spacingAndGlyphs">2</text>
<text class="nd" x="741.64" y="1224.50" font-size="40" textLength="10.42" lengthAdjust="spacingAndGlyphs">,</text>
<text class="nd" x="750.69" y="1224.50" font-size="40" textLength="19.39" lengthAdjust="spacingAndGlyphs">7</text>
<text class="nd" x="887.03" y="1224.50" font-size="40" textLength="21.63" lengthAdjust="spacingAndGlyphs">0</text>
<text class="nd" x="907.94" y="1224.50" font-size="40" textLength="10.81" lengthAdjust="spacingAndGlyphs">,</text>
<text class="nd" x="917.33" y="1224.50" font-size="40" textLength="20.11" lengthAdjust="spacingAndGlyphs">7</text>
<text class="nd" x="937.67" y="1224.50" font-size="40" textLength="20.48" lengthAdjust="spacingAndGlyphs">8</text>
<text class="nd" x="1090.12" y="1224.50" font-size="40" textLength="10.19" lengthAdjust="spacingAndGlyphs">,</text>
<text class="nd" x="1099.75" y="1224.50" font-size="40" textLength="20.39" lengthAdjust="spacingAndGlyphs">0</text>
<path fill="#1f1f1f" d="M908.70 -4.70 L905.90 -4.70 L900.80 2.90 L902.30 4.20 L905.70 0.30 L905.70 23.30 L908.70 23.30Z M1083.47 -4.30 L1080.67 -4.30 L1074.70 3.30 L1076.20 4.60 L1080.47 0.70 L1080.47 23.70 L1083.47 23.70Z M716.30 43.80 L713.50 43.80 L707.80 51.40 L709.30 52.70 L713.30 48.80 L713.30 71.80 L716.30 71.80Z M926.23 43.70 L923.43 43.70 L917.56 51.30 L919.06 52.60 L923.23 48.70 L923.23 71.70 L926.23 71.70Z M773.50 87.00 L770.70 87.00 L765.00 94.60 L766.50 95.90 L770.50 92.00 L770.50 115.00 L773.50 115.00Z M1088.19 137.00 L1085.39 137.00 L1079.70 144.60 L1081.20 145.90 L1085.19 142.00 L1085.19 165.00 L1088.19 165.00Z M733.51 191.40 L730.71 191.40 L725.00 199.00 L726.50 200.30 L730.51 196.40 L730.51 219.40 L733.51 219.40Z M930.13 249.50 L927.33 249.50 L921.50 257.10 L923.00 258.40 L927.13 254.50 L927.13 277.50 L930.13 277.50Z M753.46 306.40 L750.66 306.40 L745.04 314.00 L746.54 315.30 L750.46 311.40 L750.46 334.40 L753.46 334.40Z M900.48 356.20 L897.68 356.20 L892.00 363.80 L893.50 365.10 L897.48 361.20 L897.48 384.20 L900.48 384.20Z M1093.87 356.20 L1091.07 356.20 L1085.30 363.80 L1086.80 365.10 L1090.87 361.20 L1090.87 384.20 L1093.87 384.20Z M899.16 462.80 L896.36 462.80 L890.80 470.40 L892.30 471.70 L896.16 467.80 L896.16 490.80 L899.16 490.80Z M1078.51 462.80 L1075.71 462.80 L1070.00 470.40 L1071.50 471.70 L1075.51 467.80 L1075.51 490.80 L1078.51 490.80Z M900.21 509.50 L897.41 509.50 L891.70 517.10 L893.20 518.40 L897.21 514.50 L897.21 537.50 L900.21 537.50Z M1078.20 509.50 L1075.40 509.50 L1069.70 517.10 L1071.20 518.40 L1075.20 514.50 L1075.20 537.50 L1078.20 537.50Z M900.53 560.00 L897.73 560.00 L892.00 567.60 L893.50 568.90 L897.53 565.00 L897.53 588.00 L900.53 588.00Z M1079.13 560.00 L1076.33 560.00 L1070.80 567.60 L1072.30 568.90 L1076.13 565.00 L1076.13 588.00 L1079.13 588.00Z M683.64 757.75 L680.84 757.75 L675.00 765.35 L676.50 766.65 L680.64 762.75 L680.64 785.75 L683.64 785.75Z M695.60 757.75 L692.80 757.75 L686.96 765.35 L688.46 766.65 L692.60 762.75 L692.60 785.75 L695.60 785.75Z M707.56 757.75 L704.76 757.75 L698.92 765.35 L700.42 766.65 L704.56 762.75 L704.56 785.75 L707.56 785.75Z M877.11 757.75 L874.31 757.75 L868.42 765.35 L869.92 766.65 L874.11 762.75 L874.11 785.75 L877.11 785.75Z M1120.23 757.75 L1117.43 757.75 L1111.39 765.35 L1112.89 766.65 L1117.23 762.75 L1117.23 785.75 L1120.23 785.75Z M761.43 809.50 L758.63 809.50 L752.87 817.10 L754.37 818.40 L758.43 814.50 L758.43 837.50 L761.43 837.50Z M867.20 809.50 L864.40 809.50 L858.50 817.10 L860.00 818.40 L864.20 814.50 L864.20 837.50 L867.20 837.50Z M873.02 865.75 L870.22 865.75 L864.50 873.35 L866.00 874.65 L870.02 870.75 L870.02 893.75 L873.02 893.75Z M884.81 865.75 L882.01 865.75 L876.29 873.35 L877.79 874.65 L881.81 870.75 L881.81 893.75 L884.81 893.75Z M905.81 865.75 L903.01 865.75 L897.29 873.35 L898.79 874.65 L902.81 870.75 L902.81 893.75 L905.81 893.75Z M1041.10 865.75 L1038.30 865.75 L1032.50 873.35 L1034.00 874.65 L1038.10 870.75 L1038.10 893.75 L1041.10 893.75Z M901.11 919.50 L898.31 919.50 L892.50 927.10 L894.00 928.40 L898.11 924.50 L898.11 947.50 L901.11 947.50Z M1078.50 919.50 L1075.70 919.50 L1070.00 927.10 L1071.50 928.40 L1075.50 924.50 L1075.50 947.50 L1078.50 947.50Z M728.63 973.60 L725.83 973.60 L720.00 981.20 L721.50 982.50 L725.63 978.60 L725.63 1001.60 L728.63 1001.60Z M765.60 1090.40 L762.80 1090.40 L756.89 1098.00 L758.39 1099.30 L762.60 1095.40 L762.60 1118.40 L765.60 1118.40Z M1088.38 1196.50 L1085.59 1196.50 L1080.00 1204.10 L1081.50 1205.40 L1085.38 1201.50 L1085.38 1224.50 L1088.38 1224.50Z"/>
</svg>
</body></html>
